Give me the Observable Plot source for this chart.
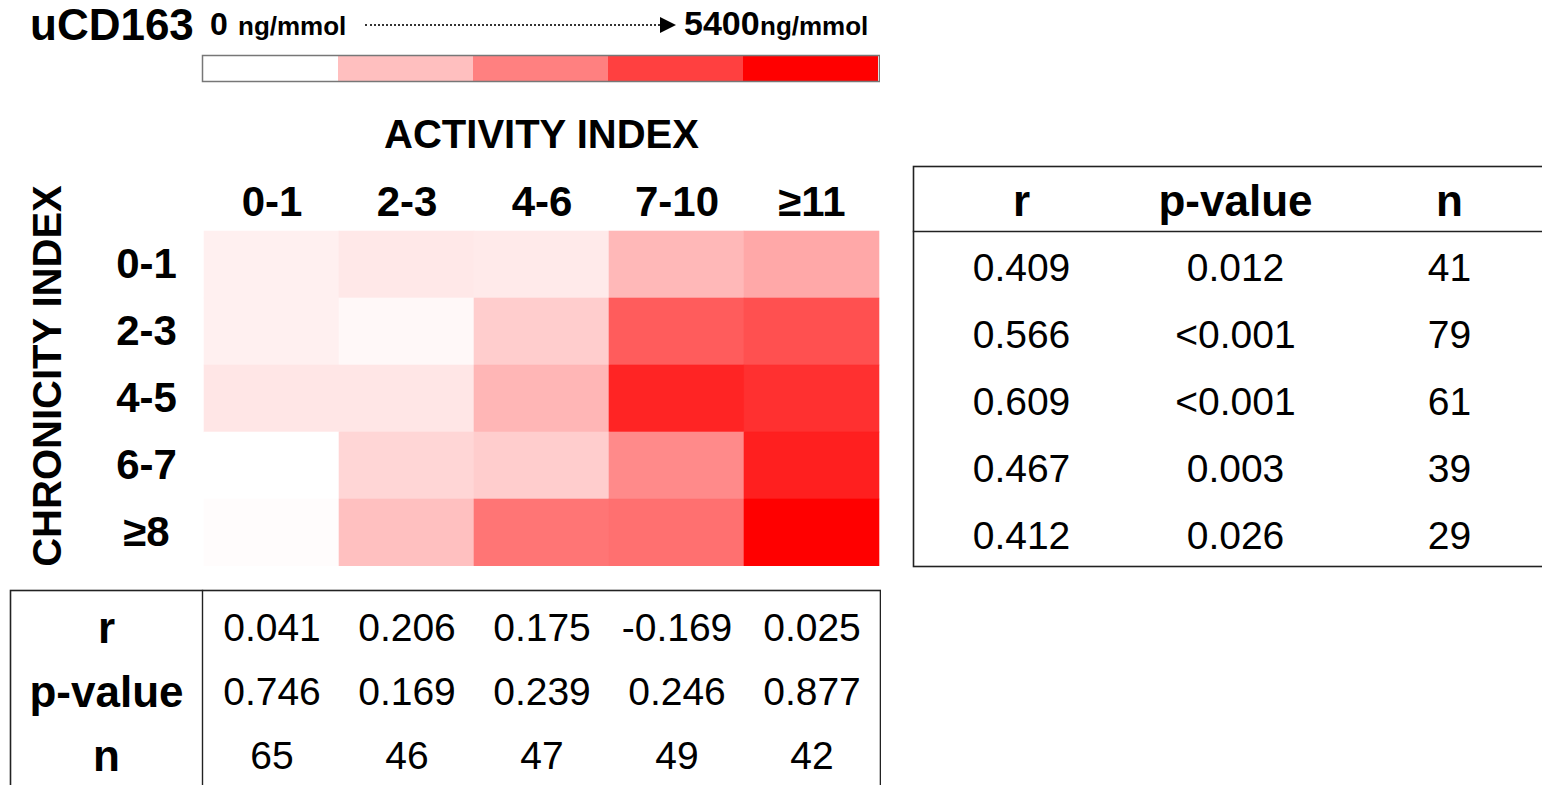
<!DOCTYPE html>
<html><head><meta charset="utf-8">
<script src="https://cdn.jsdelivr.net/npm/d3@7"></script>
<script src="https://cdn.jsdelivr.net/npm/@observablehq/plot@0.6"></script>
<style>
html,body{margin:0;padding:0;background:#fff;overflow:hidden;}
#root{position:relative;width:1542px;height:785px;overflow:hidden;font-family:"Liberation Sans",Arial,sans-serif;color:#000;}
.abs{position:absolute;white-space:nowrap;}
.abs svg{display:block;max-width:none !important;}
.lbl{font-weight:bold;}
</style></head><body><div id="root"></div>
<script>
// ---- data ----
const activity = ["0-1", "2-3", "4-6", "7-10", "≥11"];
const chronicity = ["0-1", "2-3", "4-5", "6-7", "≥8"];
// mean uCD163 (ng/mmol), rows = chronicity, cols = activity (estimated from colour)
const row01 = [320, 490, 445, 1500, 1840];
const row23 = [320, 150, 1060, 3450, 3700];
const row45 = [530, 530, 1550, 4640, 4380];
const row67 = [10, 870, 1060, 2480, 4740];
const row8 = [60, 1330, 2920, 3030, 5400];
const legendSteps = [0, 1350, 2700, 4050, 5400];
const statLabels = ["r", "p-value", "n"];
const rowR = ["0.409", "0.566", "0.609", "0.467", "0.412"];
const rowP = ["0.012", "<0.001", "<0.001", "0.003", "0.026"];
const rowN = ["41", "79", "61", "39", "29"];
const colR = ["0.041", "0.206", "0.175", "-0.169", "0.025"];
const colP = ["0.746", "0.169", "0.239", "0.246", "0.877"];
const colN = ["65", "46", "47", "49", "42"];

const FONT = '"Liberation Sans", Arial, sans-serif';
const rows = [row01, row23, row45, row67, row8];
const heatData = chronicity.flatMap((c, i) => activity.map((a, j) => ({chronicity: c, activity: a, value: rows[i][j]})));
const rowStats = [rowR, rowP, rowN];
const rowTable = chronicity.flatMap((c, i) => statLabels.map((s, k) => ({row: c, stat: s, value: rowStats[k][i]})));
const colStats = [colR, colP, colN];
const colTable = statLabels.flatMap((s, k) => activity.map((a, j) => ({stat: s, col: a, value: colStats[k][j]})));
const colorScale = {type: "linear", domain: [0, 5400], range: ["#ffffff", "#ff0000"], interpolate: "rgb"};
const svgStyle = {fontFamily: FONT, background: "transparent", maxWidth: "none"};

const root = document.getElementById("root");
function place(node, left, top) {
  const d = document.createElement("div");
  d.className = "abs";
  d.style.left = left + "px"; d.style.top = top + "px";
  d.appendChild(node);
  root.appendChild(d);
  return d;
}
function label(text, left, top, size) {
  const s = document.createElement("span");
  s.className = "lbl";
  s.textContent = text;
  s.style.fontSize = size + "px";
  s.style.lineHeight = size + "px";
  place(s, left, top);
}

// ---- title line ----
label("uCD163", 30, 3, 44);
label("0", 210, 8, 32);
label("ng/mmol", 238, 13, 26);
const dots = document.createElement("div");
dots.style.cssText = "width:295px;height:0;border-top:2px dotted #333;";
place(dots, 365, 24);
const head = document.createElement("div");
head.style.cssText = "width:0;height:0;border-left:16px solid #000;border-top:8px solid transparent;border-bottom:8px solid transparent;";
place(head, 660, 17);
label("5400", 684, 6, 34);
label("ng/mmol", 760, 13, 26);

// ---- legend bar ----
const legend = Plot.plot({
  width: 880, height: 90,
  marginLeft: 202, marginRight: 1, marginTop: 55, marginBottom: 9,
  style: svgStyle,
  x: {type: "band", domain: legendSteps, padding: 0, axis: null},
  color: colorScale,
  marks: [
    Plot.cell(legendSteps, {x: d => d, fill: d => d, inset: 0}),
    Plot.frame({stroke: "#777", strokeWidth: 1.5})
  ]
});
place(legend, 0, 0);

// ---- heatmap ----
const heat = Plot.plot({
  width: 880, height: 466,
  marginLeft: 202, marginRight: 0, marginTop: 131, marginBottom: 0,
  style: svgStyle,
  x: {type: "band", domain: activity, padding: 0, axis: null},
  y: {type: "band", domain: chronicity, padding: 0, axis: null},
  color: colorScale,
  marks: [
    Plot.cell(heatData, {x: "activity", y: "chronicity", fill: "value", stroke: "value", strokeWidth: 0.6, inset: 0}),
    Plot.axisX({anchor: "top", tickSize: 0, tickPadding: 16, fontSize: 42, fontWeight: "bold", label: null}),
    Plot.axisY({anchor: "left", tickSize: 0, tickPadding: 56, textAnchor: "middle", fontSize: 42, fontWeight: "bold", label: null}),
    Plot.text(["ACTIVITY INDEX"], {text: d => d, frameAnchor: "top", dy: -96, fontSize: 40, fontWeight: "bold", lineAnchor: "middle"}),
    Plot.text(["CHRONICITY INDEX"], {text: d => d, frameAnchor: "left", textAnchor: "middle", dx: -154, dy: -23, rotate: -90, fontSize: 40, fontWeight: "bold", lineAnchor: "middle"})
  ]
});
place(heat, 0, 100);

// ---- right table (per chronicity row) ----
const right = Plot.plot({
  width: 657, height: 470,
  marginLeft: 13, marginRight: 0, marginTop: 131, marginBottom: 4,
  style: svgStyle,
  x: {type: "point", domain: statLabels, padding: 0.5, axis: null},
  y: {type: "band", domain: chronicity, padding: 0, axis: null},
  marks: [
    Plot.frame({stroke: "#222", strokeWidth: 1.6, insetTop: -65}),
    Plot.frame({anchor: "top", stroke: "#222", strokeWidth: 1.4}),
    Plot.axisX({anchor: "top", tickSize: 0, tickPadding: 16, fontSize: 44, fontWeight: "bold", label: null}),
    Plot.text(rowTable, {x: "stat", y: "row", text: "value", dy: 4, fontSize: 39, fontWeight: "normal"})
  ]
});
place(right, 900, 100);

// ---- bottom table (per activity column) ----
const bottom = Plot.plot({
  width: 881, height: 215,
  marginLeft: 202, marginRight: 1, marginTop: 15, marginBottom: 0,
  style: svgStyle,
  x: {type: "band", domain: activity, padding: 0, axis: null},
  y: {type: "band", domain: statLabels, padding: 0, insetTop: 5, insetBottom: 2, axis: null},
  marks: [
    Plot.frame({stroke: "#222", strokeWidth: 1.6, insetLeft: -192}),
    Plot.frame({anchor: "left", stroke: "#222", strokeWidth: 1.4}),
    Plot.axisY({anchor: "left", tickSize: 0, tickPadding: 96, textAnchor: "middle", fontSize: 44, fontWeight: "bold", label: null}),
    Plot.text(colTable, {x: "col", y: "stat", text: "value", fontSize: 39, fontWeight: "normal"})
  ]
});
place(bottom, 0, 575);
</script>
</body></html>
